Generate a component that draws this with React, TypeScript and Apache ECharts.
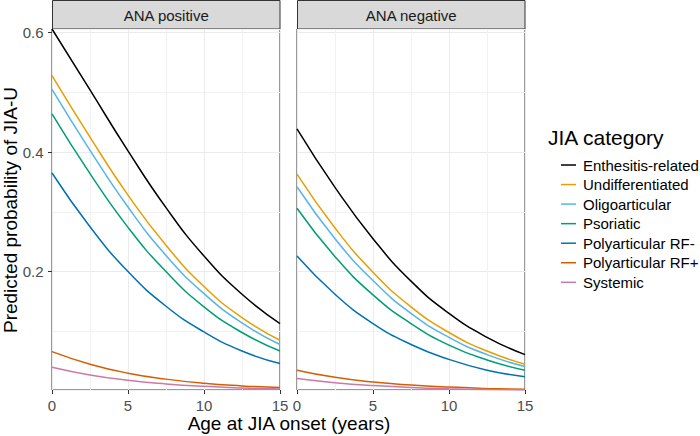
import React, { useEffect, useRef } from "react";
import * as echarts from "echarts";

// Age at JIA onset (years) at which values were read
const ageX = [0, 2.5, 5, 7.5, 10, 12.5, 15];

const panels = ["ANA positive", "ANA negative"];

const categories = [
  "Enthesitis-related",
  "Undifferentiated",
  "Oligoarticular",
  "Psoriatic",
  "Polyarticular RF-",
  "Polyarticular RF+",
  "Systemic",
];

// ANA positive panel
const enthesitisPos = [0.606, 0.504, 0.402, 0.307, 0.226, 0.162, 0.113];
const undiffPos = [0.528, 0.425, 0.328, 0.244, 0.175, 0.123, 0.085];
const oligoPos = [0.505, 0.403, 0.308, 0.227, 0.163, 0.114, 0.078];
const psoriaticPos = [0.464, 0.364, 0.274, 0.2, 0.141, 0.098, 0.067];
const rfMinusPos = [0.365, 0.275, 0.2, 0.142, 0.099, 0.067, 0.046];
const rfPlusPos = [0.066, 0.045, 0.03, 0.02, 0.013, 0.0087, 0.0058];
const systemicPos = [0.04, 0.027, 0.018, 0.012, 0.0079, 0.0052, 0.0034];

// ANA negative panel
const enthesitisNeg = [0.439, 0.341, 0.255, 0.184, 0.13, 0.09, 0.061];
const undiffNeg = [0.363, 0.273, 0.199, 0.141, 0.098, 0.067, 0.045];
const oligoNeg = [0.342, 0.255, 0.185, 0.13, 0.09, 0.061, 0.041];
const psoriaticNeg = [0.306, 0.225, 0.161, 0.113, 0.077, 0.052, 0.035];
const rfMinusNeg = [0.226, 0.162, 0.113, 0.078, 0.053, 0.035, 0.024];
const rfPlusNeg = [0.035, 0.023, 0.015, 0.01, 0.0067, 0.0045, 0.003];
const systemicNeg = [0.021, 0.014, 0.0092, 0.0061, 0.004, 0.0027, 0.0018];

const xTickValues = [0, 5, 10, 15];
const yTickValues = [0.2, 0.4, 0.6];

const palette = ["#000000", "#E69F00", "#56B4E9", "#009E73", "#0072B2", "#D55E00", "#CC79A7"];

const FONT = "'Liberation Sans', Arial, Helvetica, sans-serif";

export default function App() {
  const ref = useRef<HTMLDivElement>(null);

  useEffect(() => {
    if (!ref.current) return;
    const chart = echarts.init(ref.current, undefined, { renderer: "svg" });

    const panelData = [
      [enthesitisPos, undiffPos, oligoPos, psoriaticPos, rfMinusPos, rfPlusPos, systemicPos],
      [enthesitisNeg, undiffNeg, oligoNeg, psoriaticNeg, rfMinusNeg, rfPlusNeg, systemicNeg],
    ];
    const all = panelData.flat(2);
    const yMin = Math.min(...all);
    const yMax = Math.max(...all);

    const grids = [
      { left: 52, top: 29, width: 228, height: 361 },
      { left: 297, top: 29, width: 228, height: 361 },
    ].map((g) => ({ ...g, show: true, borderColor: "#333333", borderWidth: 1, backgroundColor: "#ffffff" }));

    const xAxes = [0, 1].map((gi) => ({
      type: "value",
      gridIndex: gi,
      position: "bottom",
      min: 0,
      max: 15,
      interval: 5,
      axisLine: { show: false },
      axisTick: { show: true, length: 4, lineStyle: { color: "#333333", width: 1 }, customValues: xTickValues },
      axisLabel: { color: "#4d4d4d", fontSize: 15, fontFamily: FONT, margin: 8, customValues: xTickValues },
      splitLine: { show: true, lineStyle: { color: "#ebebeb", width: 1 } },
      minorTick: { show: false, splitNumber: 2 },
      minorSplitLine: { show: true, lineStyle: { color: "#f1f1f1", width: 1 } },
    }));

    const yAxes: any[] = [];
    [0, 1].forEach((gi) => {
      // minor grid (every 0.1)
      yAxes.push({
        type: "value",
        gridIndex: gi,
        position: "left",
        min: yMin,
        max: yMax,
        splitNumber: 6,
        axisLine: { show: false },
        axisTick: { show: false },
        axisLabel: { show: false },
        splitLine: { show: true, lineStyle: { color: "#f1f1f1", width: 1 } },
      });
      // major grid, ticks and labels
      yAxes.push({
        type: "value",
        gridIndex: gi,
        position: "left",
        offset: 0,
        min: yMin,
        max: yMax,
        axisLine: { show: false },
        axisTick: {
          show: gi === 0,
          length: 4,
          lineStyle: { color: "#333333", width: 1 },
          customValues: yTickValues,
        },
        axisLabel: {
          show: gi === 0,
          color: "#4d4d4d",
          fontSize: 15,
          fontFamily: FONT,
          margin: 8.5,
          customValues: yTickValues,
          formatter: (v: number) => v.toFixed(1),
        },
        splitLine: { show: true, lineStyle: { color: "#ebebeb", width: 1 } },
      });
    });

    const series: any[] = [];
    panelData.forEach((rows, p) => {
      rows.forEach((vals, i) => {
        series.push({
          type: "line",
          name: categories[i],
          xAxisIndex: p,
          yAxisIndex: p * 2,
          data: ageX.map((x, k) => [x, vals[k]]),
          showSymbol: false,
          smooth: true,
          lineStyle: { color: palette[i], width: 1.5 },
          itemStyle: { color: palette[i] },
          emphasis: { disabled: true },
        });
      });
    });

    const stripX = [
      [52.5, 227.5],
      [297.5, 227.5],
    ];

    const graphic: any[] = [];
    panels.forEach((name, p) => {
      graphic.push({
        type: "rect",
        shape: { x: stripX[p][0], y: 0.5, width: stripX[p][1], height: 28.5 },
        style: { fill: "#d9d9d9", stroke: "#333333", lineWidth: 1 },
      });
      graphic.push({
        type: "text",
        x: stripX[p][0] + stripX[p][1] / 2,
        y: 15,
        style: {
          text: name,
          fontSize: 15,
          fontFamily: FONT,
          fill: "#1a1a1a",
          align: "center",
          verticalAlign: "middle",
        },
      });
    });
    graphic.push({
      type: "text",
      x: 10,
      y: 210,
      rotation: Math.PI / 2,
      style: {
        text: "Predicted probability of JIA-U",
        fontSize: 19,
        fontFamily: FONT,
        fill: "#000000",
        align: "center",
        verticalAlign: "middle",
      },
    });
    graphic.push({
      type: "text",
      x: 289,
      y: 423,
      style: {
        text: "Age at JIA onset (years)",
        fontSize: 19,
        fontFamily: FONT,
        fill: "#000000",
        align: "center",
        verticalAlign: "middle",
      },
    });
    graphic.push({
      type: "text",
      x: 548,
      y: 137,
      style: {
        text: "JIA category",
        fontSize: 21,
        fontFamily: FONT,
        fill: "#000000",
        align: "left",
        verticalAlign: "middle",
      },
    });

    chart.setOption({
      animation: false,
      backgroundColor: "#ffffff",
      grid: grids,
      xAxis: xAxes,
      yAxis: yAxes,
      series,
      legend: {
        orient: "vertical",
        left: 556,
        top: 152.5,
        itemWidth: 15,
        itemHeight: 1.5,
        itemGap: 4.55,
        icon: "rect",
        selectedMode: false,
        data: categories,
        textStyle: { fontSize: 15, fontFamily: FONT, color: "#000000", lineHeight: 15, padding: [0, 0, 0, 2] },
      },
      graphic,
    });

    return () => chart.dispose();
  }, []);

  return (
    <div
      ref={ref}
      style={{ position: "fixed", left: 0, top: 0, width: 700, height: 436, background: "#fff" }}
    />
  );
}
